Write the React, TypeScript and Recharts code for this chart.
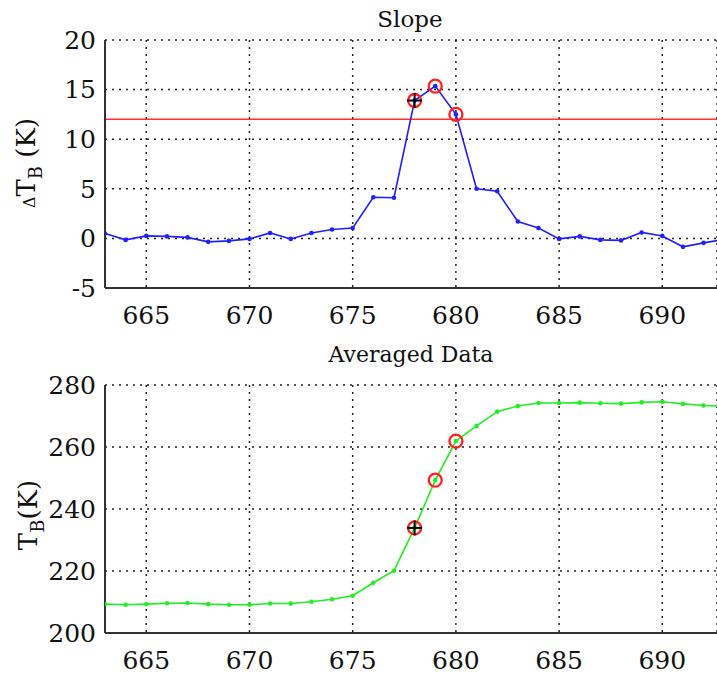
import React from "react";
import {
  LineChart,
  Line,
  XAxis,
  YAxis,
  CartesianGrid,
  ReferenceLine,
  ReferenceDot,
} from "recharts";

// Channel / frequency index on the x axis
const channels = [
  663, 664, 665, 666, 667, 668, 669, 670, 671, 672, 673, 674, 675, 676, 677, 678,
  679, 680, 681, 682, 683, 684, 685, 686, 687, 688, 689, 690, 691, 692, 693,
];
// Slope ΔT_B (K)
const slope = [
  0.5, -0.15, 0.25, 0.2, 0.1, -0.35, -0.25, -0.05, 0.55, -0.05, 0.55, 0.9, 1.05, 4.15, 4.1,
  13.9, 15.35, 12.5, 5.0, 4.75, 1.7, 1.05, -0.05, 0.2, -0.15, -0.2, 0.6, 0.25, -0.85, -0.45,
  -0.1,
];
// Averaged T_B (K)
const averaged = [
  209.3, 209.1, 209.3, 209.6, 209.7, 209.3, 209.1, 209.1, 209.5, 209.5, 210.1, 210.9, 212.0,
  216.2, 220.1, 233.9, 249.3, 261.9, 266.8, 271.4, 273.2, 274.2, 274.2, 274.3, 274.1, 274.0,
  274.4, 274.6, 273.9, 273.4, 273.2,
];
const selected = [678, 679, 680];
const detected = 678;
const threshold = 12;
const xTicks = [665, 670, 675, 680, 685, 690];
const slopeTicks = [-5, 0, 5, 10, 15, 20];
const avgTicks = [200, 220, 240, 260, 280];
const xDomain: [number, number] = [663, 692.65];

const slopeData = channels.map((x, i) => ({ x, y: slope[i] }));
const avgData = channels.map((x, i) => ({ x, y: averaged[i] }));

const FONT = "'DejaVu Serif', serif";
const tickStyle = { fontFamily: FONT, fontSize: 25, fill: "#111" };
const AXIS = "#333";

const Plus = (props: any) => {
  const { cx, cy } = props;
  return (
    <g>
      <line x1={cx - 7.5} x2={cx + 7.5} y1={cy} y2={cy} stroke="#000" strokeWidth={2} />
      <line x1={cx} x2={cx} y1={cy - 7.5} y2={cy + 7.5} stroke="#000" strokeWidth={2} />
    </g>
  );
};

function Panel(props: {
  data: { x: number; y: number }[];
  values: number[];
  height: number;
  top: number;
  bottomAxis: number;
  yDomain: [number, number];
  yTicks: number[];
  color: string;
  thresholdLine?: number;
}) {
  const { data, values, height, top, bottomAxis, yDomain, yTicks, color, thresholdLine } = props;
  return (
    <LineChart
      width={717}
      height={height}
      data={data}
      margin={{ top, right: 0, bottom: 0, left: 0 }}
    >
      <CartesianGrid stroke="#222" strokeDasharray="2 5" strokeWidth={1.5} />
      <XAxis
        dataKey="x"
        type="number"
        domain={xDomain}
        allowDataOverflow
        ticks={xTicks}
        height={bottomAxis}
        tickLine={false}
        tickSize={0}
        tickMargin={18}
        axisLine={{ stroke: AXIS, strokeWidth: 2 }}
        tick={tickStyle}
      />
      <XAxis
        xAxisId="top"
        dataKey="x"
        type="number"
        orientation="top"
        domain={xDomain}
        allowDataOverflow
        height={0}
        tick={false}
        tickLine={false}
        axisLine={{ stroke: AXIS, strokeWidth: 2 }}
      />
      <YAxis
        type="number"
        domain={yDomain}
        ticks={yTicks}
        allowDataOverflow
        width={105}
        tickLine={false}
        tickSize={0}
        tickMargin={9}
        axisLine={{ stroke: AXIS, strokeWidth: 2 }}
        tick={tickStyle}
      />
      {thresholdLine !== undefined && (
        <ReferenceLine y={thresholdLine} stroke="#ff3030" strokeWidth={1.5} />
      )}
      <Line
        dataKey="y"
        stroke={color}
        strokeWidth={1.6}
        dot={{ r: 2.3, fill: color, stroke: color, strokeWidth: 0 }}
        isAnimationActive={false}
      />
      {selected.map((s) => (
        <ReferenceDot
          key={s}
          x={s}
          y={values[channels.indexOf(s)]}
          r={6.5}
          fill="none"
          stroke="#ff2020"
          strokeWidth={2.3}
        />
      ))}
      <ReferenceDot
        x={detected}
        y={values[channels.indexOf(detected)]}
        r={7}
        shape={<Plus />}
      />
    </LineChart>
  );
}

export default function App() {
  return (
    <div style={{ position: "absolute", left: 0, top: 0, width: 717, height: 677, background: "#fff" }}>
      <div style={{ position: "absolute", left: 0, top: 0 }}>
        <Panel
          data={slopeData}
          values={slope}
          height={340}
          top={40}
          bottomAxis={52}
          yDomain={[-5, 20]}
          yTicks={slopeTicks}
          color="#2020ff"
          thresholdLine={threshold}
        />
      </div>
      <div style={{ position: "absolute", left: 0, top: 340 }}>
        <Panel
          data={avgData}
          values={averaged}
          height={337}
          top={45}
          bottomAxis={44}
          yDomain={[200, 280]}
          yTicks={avgTicks}
          color="#22ee22"
        />
      </div>
      <svg
        width={717}
        height={677}
        style={{ position: "absolute", left: 0, top: 0, pointerEvents: "none" }}
      >
        <text x={410} y={27} textAnchor="middle" fontFamily={FONT} fontSize={23} fill="#111">
          Slope
        </text>
        <text x={411} y={362} textAnchor="middle" fontFamily={FONT} fontSize={22} fill="#111">
          Averaged Data
        </text>
        <text transform="rotate(-90)" x={-163} y={35} textAnchor="middle" fontFamily={FONT} fill="#111">
          <tspan fontSize={16}>Δ</tspan>
          <tspan fontSize={26}>T</tspan>
          <tspan fontSize={18} dy={7}>B</tspan>
          <tspan fontSize={26} dy={-7}> (K)</tspan>
        </text>
        <text transform="rotate(-90)" x={-515} y={37} textAnchor="middle" fontFamily={FONT} fill="#111">
          <tspan fontSize={26}>T</tspan>
          <tspan fontSize={18} dy={7}>B</tspan>
          <tspan fontSize={26} dy={-7}>(K)</tspan>
        </text>
      </svg>
    </div>
  );
}
